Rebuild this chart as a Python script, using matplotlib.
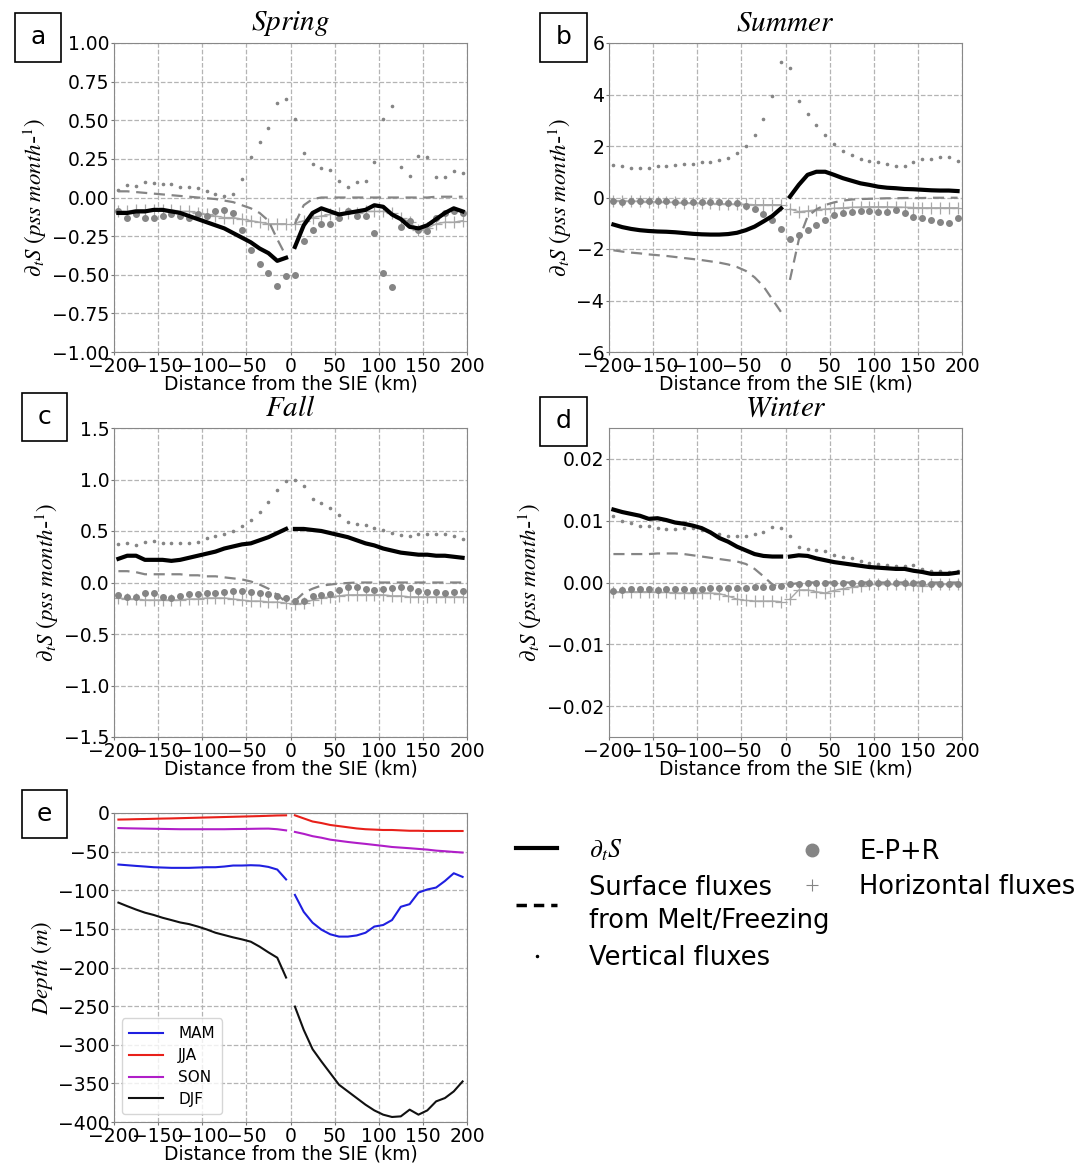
import numpy as np
import matplotlib
matplotlib.use("Agg")
import matplotlib.pyplot as plt
from matplotlib.lines import Line2D
from matplotlib.patches import Rectangle

plt.rcParams['font.family'] = ['DejaVu Sans']
plt.rcParams['mathtext.fontset'] = 'stix'

# ---------------- data ----------------
dist_left = [-195, -185, -175, -165, -155, -145, -135, -125, -115, -105,
             -95, -85, -75, -65, -55, -45, -35, -25, -15, -5]
dist_right = [5, 15, 25, 35, 45, 55, 65, 75, 85, 95,
              105, 115, 125, 135, 145, 155, 165, 175, 185, 195]

# Spring
spr_dts_l = [-0.10, -0.10, -0.09, -0.09, -0.08, -0.08, -0.09, -0.10, -0.12, -0.14,
             -0.16, -0.18, -0.20, -0.23, -0.26, -0.29, -0.33, -0.36, -0.41, -0.39]
spr_dts_r = [-0.32, -0.18, -0.10, -0.07, -0.09, -0.11, -0.10, -0.09, -0.08, -0.05,
             -0.06, -0.11, -0.14, -0.19, -0.20, -0.18, -0.14, -0.10, -0.07, -0.09]
spr_sf_l = [0.04, 0.04, 0.035, 0.03, 0.025, 0.02, 0.015, 0.01, 0.005, 0.0,
            -0.005, -0.01, -0.02, -0.03, -0.05, -0.07, -0.10, -0.15, -0.27, -0.38]
spr_sf_r = [-0.17, -0.05, -0.01, 0.0, 0.0, 0.0, 0.0, 0.0, 0.0, 0.0,
            0.0, 0.0, 0.0, 0.0, 0.0, 0.0, 0.005, 0.005, 0.005, 0.005]
spr_vf_l = [0.05, 0.08, 0.075, 0.10, 0.095, 0.09, 0.085, 0.07, 0.065, 0.06,
            0.04, 0.02, 0.01, 0.02, 0.12, 0.26, 0.36, 0.45, 0.61, 0.64]
spr_vf_r = [0.51, 0.29, 0.22, 0.19, 0.18, 0.11, 0.07, 0.10, 0.11, 0.23,
            0.51, 0.59, 0.20, 0.14, 0.27, 0.26, 0.13, 0.13, 0.17, 0.16]
spr_ep_l = [-0.09, -0.13, -0.11, -0.13, -0.13, -0.12, -0.11, -0.12, -0.13, -0.11,
            -0.12, -0.09, -0.08, -0.10, -0.21, -0.34, -0.43, -0.49, -0.57, -0.51]
spr_ep_r = [-0.50, -0.28, -0.21, -0.17, -0.17, -0.13, -0.09, -0.12, -0.12, -0.23,
            -0.49, -0.58, -0.19, -0.15, -0.21, -0.22, -0.13, -0.10, -0.09, -0.10]
spr_hf_l = [-0.09, -0.09, -0.08, -0.08, -0.08, -0.08, -0.08, -0.09, -0.09, -0.10,
            -0.11, -0.12, -0.13, -0.13, -0.14, -0.15, -0.16, -0.17, -0.17, -0.17]
spr_hf_r = [-0.17, -0.15, -0.13, -0.12, -0.11, -0.10, -0.10, -0.10, -0.09, -0.09,
            -0.09, -0.10, -0.13, -0.16, -0.21, -0.20, -0.17, -0.16, -0.16, -0.15]

# Summer
sum_dts_l = [-1.05, -1.15, -1.22, -1.27, -1.30, -1.32, -1.33, -1.35, -1.38, -1.41,
             -1.43, -1.44, -1.44, -1.42, -1.37, -1.27, -1.13, -0.93, -0.72, -0.42]
sum_dts_r = [0.03, 0.49, 0.88, 1.00, 1.00, 0.88, 0.75, 0.65, 0.55, 0.49,
             0.42, 0.38, 0.36, 0.33, 0.32, 0.30, 0.28, 0.27, 0.27, 0.25]
sum_sf_l = [-2.05, -2.10, -2.14, -2.17, -2.21, -2.24, -2.27, -2.31, -2.35, -2.39,
            -2.43, -2.48, -2.53, -2.60, -2.70, -2.85, -3.10, -3.45, -3.95, -4.45]
sum_sf_r = [-3.20, -1.65, -0.74, -0.46, -0.29, -0.19, -0.12, -0.08, -0.06, -0.05,
            -0.04, -0.03, -0.03, -0.02, -0.02, -0.02, -0.01, -0.01, -0.01, -0.01]
sum_vf_l = [1.27, 1.24, 1.16, 1.16, 1.16, 1.23, 1.24, 1.27, 1.29, 1.30,
            1.37, 1.37, 1.46, 1.53, 1.72, 2.01, 2.43, 3.04, 3.95, 5.27]
sum_vf_r = [5.03, 3.73, 3.24, 2.82, 2.43, 2.08, 1.82, 1.65, 1.50, 1.40,
            1.37, 1.30, 1.23, 1.23, 1.37, 1.49, 1.49, 1.56, 1.59, 1.42]
sum_ep_l = [-0.13, -0.16, -0.13, -0.12, -0.12, -0.14, -0.15, -0.16, -0.17, -0.19,
            -0.17, -0.17, -0.19, -0.20, -0.23, -0.33, -0.46, -0.65, -0.87, -1.21]
sum_ep_r = [-1.60, -1.46, -1.26, -1.07, -0.87, -0.68, -0.61, -0.55, -0.51, -0.51,
            -0.58, -0.58, -0.49, -0.59, -0.74, -0.81, -0.87, -0.94, -0.98, -0.81]
sum_hf_l = [-0.12, -0.13, -0.14, -0.15, -0.16, -0.17, -0.18, -0.19, -0.20, -0.21,
            -0.22, -0.23, -0.24, -0.25, -0.26, -0.27, -0.28, -0.28, -0.28, -0.28]
sum_hf_r = [-0.45, -0.55, -0.52, -0.48, -0.45, -0.42, -0.40, -0.38, -0.37, -0.36,
            -0.36, -0.36, -0.37, -0.38, -0.39, -0.40, -0.40, -0.40, -0.40, -0.40]

# Fall
fal_dts_l = [0.23, 0.26, 0.26, 0.22, 0.22, 0.22, 0.21, 0.22, 0.24, 0.26,
             0.28, 0.30, 0.33, 0.35, 0.37, 0.38, 0.41, 0.44, 0.48, 0.52]
fal_dts_r = [0.52, 0.52, 0.51, 0.50, 0.48, 0.46, 0.44, 0.41, 0.38, 0.36,
             0.33, 0.31, 0.29, 0.28, 0.27, 0.27, 0.26, 0.26, 0.25, 0.24]
fal_sf_l = [0.11, 0.11, 0.10, 0.08, 0.08, 0.08, 0.08, 0.08, 0.07, 0.07,
            0.06, 0.06, 0.05, 0.04, 0.03, 0.01, -0.02, -0.06, -0.12, -0.19]
fal_sf_r = [-0.18, -0.10, -0.06, -0.03, -0.02, -0.01, -0.005, 0.0, 0.0, 0.0,
            0.0, 0.0, 0.0, 0.0, 0.0, 0.0, 0.0, 0.0, 0.0, 0.0]
fal_vf_l = [0.37, 0.38, 0.36, 0.39, 0.40, 0.38, 0.38, 0.38, 0.38, 0.39,
            0.43, 0.45, 0.47, 0.50, 0.55, 0.61, 0.68, 0.78, 0.90, 0.99]
fal_vf_r = [1.00, 0.94, 0.81, 0.77, 0.72, 0.66, 0.59, 0.57, 0.56, 0.53,
            0.51, 0.48, 0.46, 0.45, 0.47, 0.47, 0.47, 0.47, 0.45, 0.42]
fal_ep_l = [-0.12, -0.14, -0.14, -0.10, -0.10, -0.14, -0.15, -0.13, -0.11, -0.11,
            -0.10, -0.10, -0.09, -0.08, -0.08, -0.09, -0.10, -0.11, -0.13, -0.15]
fal_ep_r = [-0.18, -0.18, -0.13, -0.12, -0.11, -0.07, -0.04, -0.04, -0.06, -0.07,
            -0.06, -0.05, -0.04, -0.05, -0.08, -0.09, -0.09, -0.10, -0.09, -0.08]
fal_hf_l = [-0.15, -0.16, -0.16, -0.17, -0.17, -0.17, -0.17, -0.17, -0.16, -0.16,
            -0.15, -0.15, -0.15, -0.16, -0.17, -0.18, -0.18, -0.19, -0.19, -0.20]
fal_hf_r = [-0.21, -0.20, -0.17, -0.15, -0.14, -0.13, -0.12, -0.12, -0.12, -0.12,
            -0.12, -0.13, -0.13, -0.14, -0.14, -0.14, -0.14, -0.14, -0.14, -0.14]

# Winter
win_dts_l = [0.0118, 0.0114, 0.0111, 0.0108, 0.0103, 0.0104, 0.0101, 0.0097, 0.0095, 0.0092,
             0.0088, 0.0081, 0.0072, 0.0066, 0.0058, 0.0052, 0.0046, 0.0043, 0.0042, 0.0042]
win_dts_r = [0.0042, 0.0044, 0.0043, 0.0039, 0.0036, 0.0033, 0.0031, 0.0029, 0.0027, 0.0025,
             0.0024, 0.0023, 0.0022, 0.0022, 0.0019, 0.0017, 0.0014, 0.0014, 0.0014, 0.0016]
win_sf_l = [0.0046, 0.0046, 0.0046, 0.0046, 0.0046, 0.0047, 0.0047, 0.0047, 0.0046, 0.0044,
            0.0042, 0.0040, 0.0038, 0.0036, 0.0034, 0.0030, 0.0022, 0.0010, -0.0003, -0.0008]
win_sf_r = [-0.0003, -0.0001, 0.0, 0.0, 0.0, 0.0, 0.0, 0.0, 0.0, 0.0,
            0.0, 0.0, 0.0, 0.0, 0.0, 0.0, 0.0, 0.0, 0.0, 0.0]
win_vf_l = [0.0107, 0.0099, 0.0096, 0.0092, 0.0091, 0.0088, 0.0086, 0.0087, 0.0088, 0.0088,
            0.0085, 0.0082, 0.0079, 0.0075, 0.0075, 0.0076, 0.0079, 0.0082, 0.0089, 0.0088]
win_vf_r = [0.0075, 0.0058, 0.0054, 0.0053, 0.0051, 0.0045, 0.0042, 0.0039, 0.0035, 0.0031,
            0.0030, 0.0029, 0.0026, 0.0026, 0.0028, 0.0022, 0.0018, 0.0018, 0.0017, 0.0018]
win_ep_l = [-0.0014, -0.0012, -0.0011, -0.0011, -0.0011, -0.0012, -0.0011, -0.0011, -0.0011, -0.0012,
            -0.0010, -0.0009, -0.0009, -0.0009, -0.0009, -0.0009, -0.0008, -0.0008, -0.0007, -0.0005]
win_ep_r = [-0.0002, -0.0002, -0.0001, -0.0001, -0.0001, -0.0001, 0.0, -0.0001, -0.0001, -0.0001,
            -0.0001, -0.0001, -0.0001, -0.0001, -0.0001, -0.0001, -0.0002, -0.0002, -0.0002, -0.0002]
win_hf_l = [-0.0015, -0.0015, -0.0015, -0.0015, -0.0015, -0.0016, -0.0016, -0.0017, -0.0017, -0.0017,
            -0.0017, -0.0017, -0.0018, -0.0022, -0.0027, -0.0029, -0.0030, -0.0030, -0.0030, -0.0031]
win_hf_r = [-0.0027, -0.0012, -0.0012, -0.0015, -0.0017, -0.0013, -0.0010, -0.0008, -0.0005, -0.0003,
            -0.0003, -0.0003, -0.0003, -0.0003, -0.0004, -0.0005, -0.0003, -0.0002, -0.0002, -0.0002]

# Mixed layer depth
mam_l = [-66.7, -67.6, -68.5, -69.3, -70.2, -70.6, -71.0, -71.0, -71.0, -70.6,
         -70.2, -70.2, -69.3, -68.0, -68.0, -67.6, -68.0, -69.8, -73.2, -86.0]
mam_r = [-106, -128, -142, -151, -157, -160, -160, -158.5, -155, -147,
         -145, -138.6, -121.4, -118, -103, -99, -96.5, -88, -78, -82.7]
jja_l = [-8.5, -8.3, -8.0, -7.8, -7.5, -7.2, -7.0, -6.7, -6.4, -6.1,
         -5.8, -5.5, -5.2, -4.9, -4.6, -4.3, -4.0, -3.6, -3.2, -3.0]
jja_r = [-3.0, -7.0, -11.0, -13.0, -15.5, -17.0, -18.5, -20.0, -21.0, -21.5,
         -22.0, -22.0, -22.5, -23.0, -23.0, -23.3, -23.3, -23.3, -23.3, -23.3]
son_l = [-19.5, -19.8, -20.0, -20.2, -20.4, -20.6, -20.8, -21.0, -21.0, -21.0,
         -21.0, -21.0, -21.0, -20.8, -20.7, -20.5, -20.3, -20.2, -21.0, -22.5]
son_r = [-24.5, -27.0, -30.0, -32.0, -34.5, -36.0, -37.5, -38.8, -40.0, -41.3,
         -42.6, -44.0, -44.8, -45.6, -46.5, -47.4, -48.7, -49.5, -50.4, -51.2]
djf_l = [-116, -120.6, -125, -129, -132, -135.6, -138.6, -141.7, -143.8, -147,
         -150.7, -155, -158, -161, -163.6, -166.6, -173, -180.4, -187.3, -213]
djf_r = [-250.6, -280.7, -305.7, -321.6, -336.7, -351.8, -360.4, -369, -377.6, -385,
         -390.5, -393.5, -392.7, -384, -390.5, -385, -373.3, -369, -360.4, -347.5]

xticks = [-200, -150, -100, -50, 0, 50, 100, 150, 200]

# ---------------- figure ----------------
W, H = 1088, 1163
fig = plt.figure(figsize=(W / 100, H / 100), dpi=100)


def ax_at(left, top, right, bottom):
    return fig.add_axes([left / W, 1 - bottom / H, (right - left) / W, (bottom - top) / H])


GRAY = '#858585'
LGRAY = '#a8a8a8'
ylab = r"$\partial_t S\ (pss\ month$-$^{1})$"


def style(ax, ylim, yticks, yfmt):
    ax.set_xlim(-200, 200)
    ax.set_ylim(*ylim)
    ax.set_xticks(xticks)
    ax.set_yticks(yticks)
    ax.set_yticklabels([yfmt.format(v).replace('-', '\u2212') for v in yticks])
    ax.grid(True, linestyle='--', color='#b4b4b4', linewidth=0.9)
    ax.set_axisbelow(True)
    ax.tick_params(labelsize=13.5, color='#777777', length=2, pad=1.5)
    for s in ax.spines.values():
        s.set_color('#888888')
    ax.set_xlabel('Distance from the SIE (km)', fontsize=13.5, labelpad=-1)


def budget(ax, dts, sf, vf, ep, hf):
    for xs, i in ((dist_left, 0), (dist_right, 1)):
        ax.plot(xs, hf[i], color=LGRAY, lw=1.0, marker='+', ms=8, mew=0.9, zorder=2)
        ax.plot(xs, ep[i], color=GRAY, lw=0, marker='o', ms=4, zorder=3)
        ax.plot(xs, vf[i], color=GRAY, lw=0, marker='.', ms=3.2, zorder=3)
        ax.plot(xs, sf[i], color=GRAY, lw=1.6, ls=(0, (5, 3)), zorder=4)
        ax.plot(xs, dts[i], color='black', lw=3, zorder=5)


panels = [
    ((114, 43, 467, 352), 'Spring', (-1, 1), [-1, -0.75, -0.5, -0.25, 0, 0.25, 0.5, 0.75, 1.0], '{:.2f}',
     (spr_dts_l, spr_dts_r), (spr_sf_l, spr_sf_r), (spr_vf_l, spr_vf_r), (spr_ep_l, spr_ep_r), (spr_hf_l, spr_hf_r)),
    ((609, 43, 962, 352), 'Summer', (-6, 6), [-6, -4, -2, 0, 2, 4, 6], '{:.0f}',
     (sum_dts_l, sum_dts_r), (sum_sf_l, sum_sf_r), (sum_vf_l, sum_vf_r), (sum_ep_l, sum_ep_r), (sum_hf_l, sum_hf_r)),
    ((114, 428, 467, 737), 'Fall', (-1.5, 1.5), [-1.5, -1.0, -0.5, 0, 0.5, 1.0, 1.5], '{:.1f}',
     (fal_dts_l, fal_dts_r), (fal_sf_l, fal_sf_r), (fal_vf_l, fal_vf_r), (fal_ep_l, fal_ep_r), (fal_hf_l, fal_hf_r)),
    ((609, 428, 962, 737), 'Winter', (-0.025, 0.025), [-0.02, -0.01, 0, 0.01, 0.02], '{:.2f}',
     (win_dts_l, win_dts_r), (win_sf_l, win_sf_r), (win_vf_l, win_vf_r), (win_ep_l, win_ep_r), (win_hf_l, win_hf_r)),
]

for box, title, ylim, yt, fmt, dts, sf, vf, ep, hf in panels:
    ax = ax_at(*box)
    budget(ax, dts, sf, vf, ep, hf)
    style(ax, ylim, yt, fmt)
    ax.set_title('$' + title + '$', fontsize=21, pad=9)
    ax.set_ylabel(ylab, fontsize=16.5, labelpad=2)

# panel e
axe = ax_at(114, 813, 467, 1122)
for xs, i in ((dist_left, 0), (dist_right, 1)):
    axe.plot(xs, (mam_l, mam_r)[i], color='#1f1fe0', lw=1.5, label='MAM' if i == 0 else None)
    axe.plot(xs, (jja_l, jja_r)[i], color='#e8201a', lw=1.5, label='JJA' if i == 0 else None)
    axe.plot(xs, (son_l, son_r)[i], color='#b01ec8', lw=1.5, label='SON' if i == 0 else None)
    axe.plot(xs, (djf_l, djf_r)[i], color='#111111', lw=1.5, label='DJF' if i == 0 else None)
style(axe, (-400, 0), [-400, -350, -300, -250, -200, -150, -100, -50, 0], '{:.0f}')
axe.set_ylabel(r"$Depth\ (m)$", fontsize=16.5, labelpad=2)
axe.legend(loc='lower left', fontsize=11, handlelength=2.2, borderpad=0.5,
           labelspacing=0.45, handletextpad=1.0)

# panel letters (boxes in pixel coordinates)
for lab, x0, y0, x1, y1 in (('a', 15, 13, 61, 62), ('b', 540, 13, 587, 62),
                            ('c', 22, 393, 67, 441), ('d', 540, 397, 587, 446),
                            ('e', 22, 790, 67, 838)):
    fig.patches.append(Rectangle((x0 / W, 1 - y1 / H), (x1 - x0) / W, (y1 - y0) / H,
                                 transform=fig.transFigure, fc='white', ec='black', lw=1.2))
    fig.text((x0 + x1) / 2 / W, 1 - (y0 + y1) / 2 / H, lab, fontsize=18, ha='center', va='center')

# main legend (two columns as two legends)
h1 = [Line2D([], [], color='black', lw=3),
      Line2D([], [], color='black', lw=2.5, ls=(0, (3, 2))),
      Line2D([], [], color='black', lw=0, marker='.', ms=3)]
l1 = [r"$\partial_t S$", "Surface fluxes\nfrom Melt/Freezing", "Vertical fluxes"]
h2 = [Line2D([], [], color=GRAY, lw=0, marker='o', ms=9),
      Line2D([], [], color=GRAY, lw=0, marker='+', ms=9, mew=0.8)]
l2 = ["E-P+R", "Horizontal fluxes"]
leg1 = fig.legend(h1, l1, loc='upper left', bbox_to_anchor=(493 / W, 1 - 814 / H),
                  frameon=False, fontsize=18.5, handlelength=1.6, labelspacing=0.45,
                  handletextpad=1.25)
for t in leg1.get_texts():
    t.set_linespacing(1.35)
fig.legend(h2, l2, loc='upper left', bbox_to_anchor=(768 / W, 1 - 816 / H),
           frameon=False, fontsize=18.5, handlelength=1.6, labelspacing=0.35,
           handletextpad=1.05)

fig.savefig('out.png', dpi=100)
